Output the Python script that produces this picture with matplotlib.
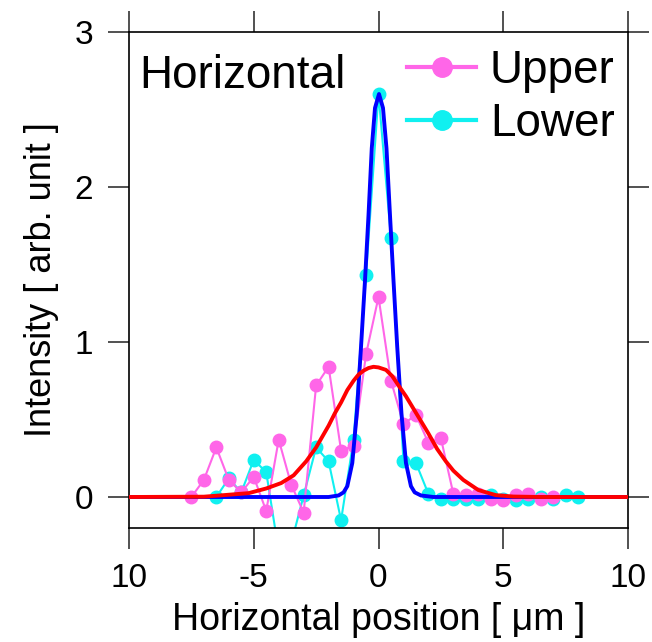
import matplotlib
matplotlib.use("Agg")
import matplotlib.pyplot as plt
from matplotlib.lines import Line2D

plt.rcParams['font.family'] = ['Liberation Sans', 'DejaVu Sans']

# measured profiles (step 0.5 um)
upper_x = [-7.5, -7.0, -6.5, -6.0, -5.5, -5.0, -4.5, -4.0, -3.5, -3.0,
           -2.5, -2.0, -1.5, -1.0, -0.5, 0.0, 0.5, 1.0, 1.5, 2.0,
           2.5, 3.0, 3.5, 4.0, 4.5, 5.0, 5.5, 6.0, 6.5, 7.0]
upper_y = [0.0, 0.11, 0.32, 0.11, 0.03, 0.13, -0.09, 0.37, 0.08, -0.10,
           0.72, 0.84, 0.30, 0.33, 0.92, 1.29, 0.75, 0.47, 0.53, 0.35,
           0.38, 0.02, 0.01, 0.02, -0.01, -0.02, 0.01, 0.02, -0.01, 0.0]

lower_x = [-6.5, -6.0, -5.5, -5.0, -4.5, -4.0, -3.5, -3.0, -2.5, -2.0,
           -1.5, -1.0, -0.5, 0.0, 0.5, 1.0, 1.5, 2.0, 2.5, 3.0,
           3.5, 4.0, 4.5, 5.0, 5.5, 6.0, 6.5, 7.0, 7.5, 8.0]
lower_y = [0.0, 0.12, 0.03, 0.24, 0.16, -0.35, -0.30, 0.01, 0.32, 0.23,
           -0.15, 0.37, 1.43, 2.60, 1.67, 0.23, 0.22, 0.02, -0.01, -0.01,
           -0.01, -0.01, 0.01, -0.01, -0.02, -0.01, 0.0, -0.01, 0.01, 0.0]

# fitted curves
fit_lower_x = [-10, -2.0, -1.6, -1.4, -1.25, -1.05, -0.87, -0.7, -0.54, -0.4, -0.27, -0.14,
               0.02, 0.18, 0.32, 0.46, 0.6, 0.75, 0.92, 1.1, 1.3, 1.45, 1.7, 2.2, 10]
fit_lower_y = [0, 0.0, 0.01, 0.03, 0.07, 0.22, 0.54, 0.97, 1.40, 1.82, 2.25, 2.51,
               2.60, 2.51, 2.25, 1.82, 1.40, 0.97, 0.54, 0.22, 0.07, 0.03, 0.01, 0.0, 0]

fit_upper_x = [-10, -7, -6.2, -5.2, -4.5, -3.9, -3.4, -2.9, -2.5, -2.25, -2.0, -1.75, -1.5,
               -1.25, -1.0, -0.8, -0.6, -0.4, -0.2, 0.0, 0.3, 0.55, 0.8, 1.1, 1.4, 1.7,
               2.0, 2.35, 2.7, 3.0, 3.4, 4.0, 4.7, 5.4, 6.5, 10]
fit_upper_y = [0, 0.002, 0.012, 0.025, 0.055, 0.09, 0.14, 0.23, 0.32, 0.39, 0.46, 0.54, 0.61,
               0.69, 0.75, 0.79, 0.815, 0.832, 0.84, 0.836, 0.82, 0.78, 0.72, 0.65, 0.57, 0.49,
               0.41, 0.31, 0.23, 0.17, 0.11, 0.045, 0.012, 0.003, 0.0, 0]

x_ticks = [-10, -5, 0, 5, 10]
x_ticklabels = ["10", "-5", "0", "5", "10"]
y_ticks = [0, 1, 2, 3]

c_upper = '#ff66e8'
c_lower = '#10f0f0'

fig = plt.figure(figsize=(6.52, 6.42), dpi=100)
ax = fig.add_axes([129/652, 1 - 528/642, 499/652, 496/642])

ax.plot(lower_x, lower_y, color=c_lower, lw=1.5, marker='o', ms=9, zorder=2)
ax.plot(upper_x, upper_y, color=c_upper, lw=1.5, marker='o', ms=9, zorder=3)
ax.plot(fit_lower_x, fit_lower_y, color='#0000ff', lw=2.8, zorder=4)
ax.plot(fit_upper_x, fit_upper_y, color='#ff0000', lw=2.8, zorder=5)

ax.set_xlim(-10, 10)
ax.set_ylim(-0.2, 3)
ax.set_xticks(x_ticks)
ax.set_xticklabels(x_ticklabels)
ax.set_yticks(y_ticks)
ax.tick_params(direction='out', length=15, width=1.2, color='#333333', labelsize=24,
               top=True, right=True)
ax.tick_params(axis='y', pad=11)
ax.tick_params(axis='x', pad=10)
for sp in ax.spines.values():
    sp.set_linewidth(1.2)

ax.set_xlabel("Horizontal position [ μm ]", fontsize=27, labelpad=6)
ax.set_ylabel("Intensity [ arb. unit ]", fontsize=26, labelpad=11)

ax.text(0.02, 0.887, "Horizontal", transform=ax.transAxes, fontsize=33, va='baseline', ha='left')

handles = [Line2D([], [], color=c_upper, lw=3, marker='o', ms=14),
           Line2D([], [], color=c_lower, lw=3, marker='o', ms=14)]
ax.legend(handles, ["Upper", "Lower"], loc='upper right', frameon=False, fontsize=33,
          handlelength=1.5, handletextpad=0.3, labelspacing=0.19, borderaxespad=0.1,
          bbox_to_anchor=(1.019, 1.012))

fig.savefig("out.png", dpi=100)
